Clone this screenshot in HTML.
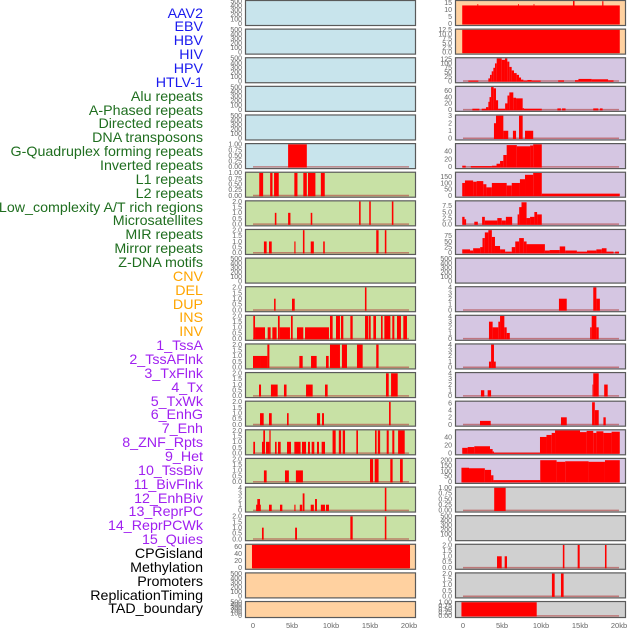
<!DOCTYPE html>
<html><head><meta charset="utf-8">
<style>
html,body{margin:0;padding:0;background:#fff;}
#wrap{position:relative;width:630px;height:630px;overflow:hidden;font-family:"Liberation Sans",sans-serif;}
.lbl{position:absolute;right:427px;font-size:14.25px;line-height:14px;white-space:nowrap;}
svg{position:absolute;left:0;top:0;}
</style></head>
<body>
<div id="wrap">
<svg id="chart" width="630" height="630"></svg>
</div>
<script>
// ---- data ----
const labels = ["AAV2","EBV","HBV","HIV","HPV","HTLV-1","Alu repeats","A-Phased repeats","Directed repeats","DNA transposons","G-Quadruplex forming repeats","Inverted repeats","L1 repeats","L2 repeats","Low_complexity A/T rich regions","Microsatellites","MIR repeats","Mirror repeats","Z-DNA motifs","CNV","DEL","DUP","INS","INV","1_TssA","2_TssAFlnk","3_TxFlnk","4_Tx","5_TxWk","6_EnhG","7_Enh","8_ZNF_Rpts","9_Het","10_TssBiv","11_BivFlnk","12_EnhBiv","13_ReprPC","14_ReprPCWk","15_Quies","CPGisland","Methylation","Promoters","ReplicationTiming","TAD_boundary"];
const labelGroups = [6,13,5,15,5];
const groupColors = ["#1a1aee","#1f6e1f","#ffa500","#a020f0","#000000"];
const leftBg = ["b","b","b","b","b","b","g","g","g","g","g","g","g","g","g","g","g","g","g","p","p","p"];
const rightBg = ["p","p","l","l","l","l","l","l","l","l","l","l","l","l","l","l","l","x","x","x","x","x"];
const leftYmax = [500,500,500,500,500,1,1,2,2,500,2,2,2,2,2,2,2,4,2,65,500,500];
const rightYmax = [16,12.5,128,72,3,57,180,9.3,100,500,4,4,4,4,6.3,56,210,1,500,2,2,1];
const leftTicks = [
 [0,100,200,300,400,500],[0,100,200,300,400,500],[0,100,200,300,400,500],[0,100,200,300,400,500],[0,100,200,300,400,500],
 [0,0.25,0.5,0.75,1],[0,0.25,0.5,0.75,1],[0,0.5,1,1.5,2],[0,0.5,1,1.5,2],[0,100,200,300,400,500],
 [0,0.5,1,1.5,2],[0,0.5,1,1.5,2],[0,0.5,1,1.5,2],[0,0.5,1,1.5,2],[0,0.5,1,1.5,2],[0,0.5,1,1.5,2],[0,0.5,1,1.5,2],
 [0,1,2,3,4],[0,0.5,1,1.5,2],[0,20,40,60],[0,100,200,300,400,500],[0,100,200,300,400,500]];
const rightTicks = [
 [0,5,10,15],[0,2.5,5,7.5,10,12.5],[0,25,50,75,100,125],[0,20,40,60],[0,1,2,3],[0,20,40],[0,50,100,150],[0,2.5,5,7.5],
 [0,25,50,75],[0,100,200,300,400,500],[0,1,2,3,4],[0,1,2,3,4],[0,1,2,3,4],[0,1,2,3,4],[0,2,4,6],[0,20,40],[0,50,100,150,200],
 [0,0.25,0.5,0.75,1],[0,100,200,300,400,500],[0,0.5,1,1.5,2],[0,0.5,1,1.5,2],[0,0.25,0.5,0.75,1]];
// segments: [startKb, endKb, value]
const leftSegs = [
 [],[],[],[],[],
 [[4.5,6.9,1]],
 [[0.8,1.3,1],[2.2,2.5,1],[2.7,3.3,1],[5.3,5.7,1],[6.45,6.9,1],[7.05,8.0,1],[8.7,9.2,1]],
 [[2.8,3.0,1],[4.5,4.8,1],[7.4,7.6,1],[13.6,13.8,2],[14.9,15.1,2],[17.8,18.0,2]],
 [[1.4,1.75,1],[2.05,2.4,1],[5.3,5.45,1],[6.4,6.6,2],[7.4,7.8,1],[9.0,9.2,1],[15.8,16.1,2],[16.9,17.1,2]],
 [],
 [[2.7,2.9,1],[5.0,5.35,1],[14.35,14.55,2]],
 [[0.04,0.26,2],[0.26,1.54,1],[1.88,2.26,1],[2.48,3.03,1],[3.2,3.42,2],[3.42,4.74,1],[4.87,5.09,2],[5.64,6.45,1],[6.67,9.74,1],[9.87,10.21,2],[10.64,11.15,2],[11.28,11.58,2],[12.48,12.78,2],[14.36,14.79,2],[14.87,15.09,2],[15.43,15.77,2],[16.41,16.62,2],[16.84,17.61,2],[17.86,18.12,2],[18.46,18.97,2],[19.27,19.74,2]],
 [[0,0.9,1],[0.9,1.84,1],[1.84,2.1,2],[5.94,6.37,1],[7.44,8.16,1],[9.36,9.7,1],[9.87,11.15,2],[11.4,12.05,2],[13.33,14.06,2],[15.8,16.1,2]],
 [[0.77,1.03,1],[2.3,3.16,1],[3.97,4.3,1],[6.8,7.65,1],[9.23,9.57,1],[17.05,17.4,2],[17.7,18.55,2]],
 [[0.9,1.37,1],[2.05,2.4,1],[4.36,4.57,1],[8.2,8.6,1],[8.85,9.1,1],[17.44,17.65,2]],
 [[0.04,0.26,1],[1.15,1.37,1],[1.32,1.54,2],[1.67,2.1,1],[2.1,2.26,2],[2.82,3.03,1],[3.2,3.55,1],[4.36,4.87,1],[5.3,6.1,1],[6.28,6.8,1],[7.05,7.3,1],[7.52,7.86,1],[8.2,8.46,1],[8.8,9.23,1],[10.2,10.6,2],[11.0,11.3,2],[11.5,11.8,2],[13.25,13.46,2],[15.64,15.85,2],[16.0,16.3,2],[17.14,17.4,2],[17.86,18.12,2],[18.6,19.45,2]],
 [[1.4,1.75,1],[4.1,4.6,1],[5.5,6.4,1],[15.0,15.4,2],[15.6,16.1,2],[17.6,17.9,2],[18.85,19.2,2]],
 [[0.4,1.0,1],[0.55,0.9,2],[2.05,2.4,1],[3.46,3.76,1],[5.3,5.45,1],[6.0,6.3,1],[6.37,6.6,3],[7.4,7.8,1],[7.95,8.2,2],[8.7,9.23,1],[9.36,9.74,1],[16.9,17.1,4]],
 [[1.15,1.37,1],[5.4,5.64,1],[12.48,12.78,2],[16.9,17.1,2]],
 [[-0.13,20.13,65]],
 [],[]
];
const rightSegs = [
 [[-0.1,20.1,13],[1.85,1.95,14],[7.05,7.15,14],[9.05,9.15,14],[14.1,14.3,17],[17.85,18.0,16]],
 [[-0.1,20.1,12.5]],
 [[0.68,1.97,3],[3.25,3.46,15],[3.46,3.68,35],[3.68,3.89,55],[3.89,4.1,75],[4.1,4.32,100],[4.32,4.96,128],[4.96,5.38,120],[5.38,5.68,128],[5.68,5.94,110],[5.94,6.24,80],[6.24,6.54,60],[6.54,6.88,45],[6.88,7.18,35],[7.18,7.44,20],[7.44,7.74,8],[7.74,8.25,3],[8.25,8.8,6],[8.8,9.96,3],[12.2,12.95,4],[14.36,14.8,5],[14.8,16.5,12],[16.5,18.6,10],[18.6,19.3,4]],
 [[1.2,2.1,3],[2.4,2.95,3],[2.95,3.25,8],[3.25,3.4,25],[3.4,3.6,40],[3.6,3.93,72],[3.93,4.23,68],[4.23,4.5,30],[4.5,5.4,3],[5.4,5.7,20],[5.7,5.94,45],[5.94,6.45,55],[6.45,6.8,38],[6.8,7.65,36],[7.65,7.8,5],[7.8,10.1,3],[12.1,12.55,4],[12.7,13.15,4],[16.7,17.35,4],[17.55,17.9,4]],
 [[3.97,4.23,2],[4.23,5.17,3],[5.17,5.8,1],[6.4,6.8,1],[7.18,7.65,3],[7.95,9.0,1]],
 [[-0.1,0.35,3],[1.0,3.7,2],[3.7,4.3,3],[4.3,4.75,8],[4.75,5.17,15],[5.17,5.6,30],[5.6,6.9,55],[6.9,8.6,52],[8.6,9.0,54],[9.0,10.1,57]],
 [[-0.1,0.25,100],[0.25,1.3,120],[1.3,1.75,110],[1.75,2.6,115],[2.6,3.0,90],[3.0,3.7,65],[3.7,5.6,100],[5.6,6.25,80],[6.25,7.3,100],[7.3,7.95,130],[7.95,9.0,165],[9.0,10.1,180],[10.1,20.1,15]],
 [[-0.1,0.2,3],[0.2,0.4,2],[1.45,1.9,1],[2.45,2.8,3],[2.8,4.4,1.5],[4.4,4.96,2.5],[4.96,5.5,1.5],[5.5,6.3,3],[7.0,7.2,4],[7.2,7.5,7],[7.5,8.15,9],[8.15,8.6,2.5],[8.6,9.15,3],[9.15,9.5,5],[9.5,10.1,4]],
 [[-0.1,0.9,15],[0.9,1.3,10],[1.3,2.2,20],[2.2,2.5,25],[2.5,2.8,65],[2.8,3.25,90],[3.25,3.7,100],[3.7,4.1,70],[4.1,4.75,30],[4.75,5.4,15],[5.4,6.25,5],[6.25,6.7,25],[6.7,7.2,50],[7.2,7.8,65],[7.8,8.15,50],[8.15,10.5,38],[10.5,11.1,10],[11.1,12.4,12],[12.4,13.1,28],[13.1,14.6,10],[14.6,15.9,5],[15.9,17.1,10],[17.1,17.8,15],[17.8,18.4,20],[18.4,19.3,5],[19.5,20.0,5]],
 [],
 [[12.3,13.3,2],[16.7,17.1,4],[17.1,17.55,2]],
 [[3.33,3.8,3],[3.8,4.53,2],[4.53,4.75,3],[4.75,5.3,4],[5.3,5.6,2],[5.6,6.0,1],[16.3,16.5,2],[16.5,17.1,4],[17.1,17.4,2]],
 [[3.33,3.6,1],[3.6,3.97,4],[3.97,4.2,1]],
 [[2.3,2.73,1],[3.16,3.6,1],[16.6,16.7,2],[16.7,17.4,4],[18.1,18.55,2]],
 [[2.18,3.55,1],[12.56,13.3,2],[16.55,16.9,6.2],[16.9,17.4,4],[18.0,18.3,2]],
 [[-0.1,0.6,13],[0.6,1.45,15],[1.45,3.46,17],[3.46,3.8,10],[3.8,3.97,4],[3.97,9.87,1],[9.87,10.7,40],[10.7,11.37,45],[11.37,11.8,50],[11.8,15.0,56],[15.0,15.85,52],[15.85,16.7,55],[16.7,17.1,50],[17.1,18.0,54],[18.0,19.05,50],[19.05,20.1,53]],
 [[-0.2,0.77,130],[0.77,2.8,125],[2.8,3.6,110],[3.6,3.9,60],[3.9,9.9,15],[9.9,12.0,200],[12.0,13.1,185],[13.1,16.1,190],[16.1,18.2,185],[18.2,20.1,200]],
 [[4.0,5.47,1]],
 [],
 [[4.36,4.96,1],[5.34,5.64,1],[12.8,13.0,2],[14.7,14.96,2],[18.2,18.4,2]],
 [[11.4,11.75,2],[12.56,12.9,2]],
 [[-0.2,9.45,1]]
];
const xTicks = [0,5,10,15,20];
const xTickLabels = ["0","5kb","10kb","15kb","20kb"];

// ---- drawing ----
const NS="http://www.w3.org/2000/svg";
const svg=document.getElementById('chart');
const bgColors={b:"#c8e4ec",g:"#c8e1a5",p:"#ffd1a0",l:"#d5c6e2",x:"#d0d0d0"};
const wrap=document.getElementById('wrap');
let li=0;
labelGroups.forEach((n,gi)=>{for(let k=0;k<n;k++){
  const d=document.createElement('div');
  d.className='lbl';
  d.style.top=(14+li*13.86-7.5)+'px';
  d.style.color=groupColors[gi];
  d.textContent=labels[li];
  
  
  wrap.appendChild(d);li++;
}});
function mk(tag,attrs,parent){const e=document.createElementNS(NS,tag);for(const k in attrs)e.setAttribute(k,attrs[k]);(parent||svg).appendChild(e);return e;}
function fmt(t,ticks){let dec=0;ticks.forEach(v=>{const s=String(v);if(s.includes('.')){const d=s.split('.')[1].length;if(d>dec)dec=d;}});
  if(ticks.includes(0.25))dec=2;return t.toFixed(dec);}
function drawPanel(col,r){
  const px=col===0?245:455, pw=171;
  const T=r*28.62+0.5, H=r===21?16:25;
  const bg=(col===0?leftBg:rightBg)[r];
  const segs=(col===0?leftSegs:rightSegs)[r];
  const ymax=(col===0?leftYmax:rightYmax)[r];
  const ticks=(col===0?leftTicks:rightTicks)[r];
  const g=mk('g',{});
  
  
  const id='c'+col+'_'+r;
  const cp=mk('clipPath',{id:id},g);mk('rect',{x:px,y:T,width:pw,height:H},cp);
  mk('rect',{x:px,y:T,width:pw,height:H,fill:bgColors[bg]},g);
  const x0=px+8, sx=7.8;
  const xs=kb=>x0+kb*sx;
  const y0=T+H-1.7, yt=T+0.7;
  const ys=v=>y0-(v/ymax)*(y0-yt);
  const bars=mk('g',{'clip-path':'url(#'+id+')'},g);
  if(segs.length) { const bl=mk('line',{x1:xs(0),x2:xs(20),y1:y0,y2:y0,stroke:'#b04040','stroke-opacity':0.6,'stroke-width':1.5},bars);
      }
  segs.forEach(s=>{
    const rc=mk('rect',{x:xs(s[0]),y:ys(s[2]),width:Math.max(0.8,xs(s[1])-xs(s[0])),height:y0-ys(s[2])+0.7,fill:'#ff0000'},bars);
    
    
  });
  mk('rect',{x:px+0.5,y:T,width:pw-1,height:H,fill:'none',stroke:'#5a5a5a','stroke-width':1.2},g);
  ticks.forEach(t=>{
    const tx=mk('text',{x:px-3,y:ys(t)+2.3,'font-size':7,fill:'#666','text-anchor':'end','font-family':'Liberation Sans, sans-serif'},g);
    tx.textContent=fmt(t,ticks);
    
    
  });
  if(r===21){
    xTicks.forEach((t,i)=>{
      const tx=mk('text',{x:xs(t),y:628,'font-size':7.5,fill:'#666','text-anchor':'middle','font-family':'Liberation Sans, sans-serif'},svg);
      tx.textContent=xTickLabels[i];
      
      
    });
  }
}
for(let r=0;r<22;r++){drawPanel(0,r);drawPanel(1,r);}
</script>
</body></html>
